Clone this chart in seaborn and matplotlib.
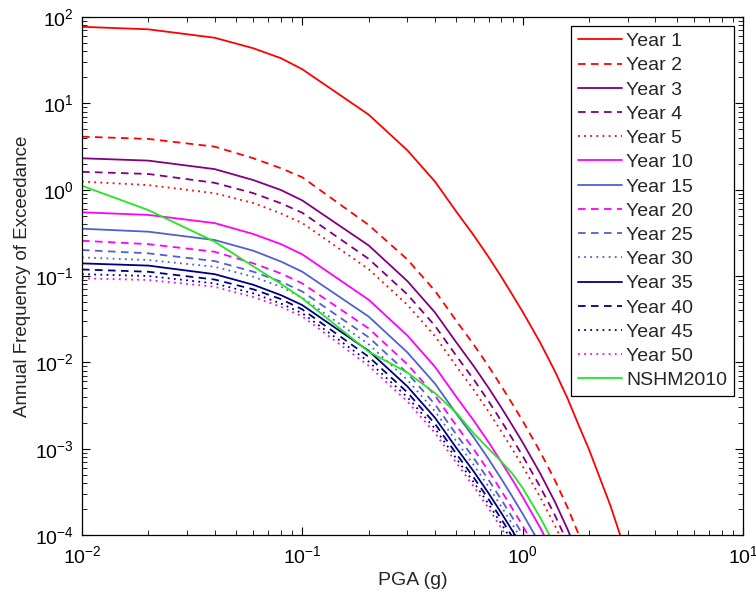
import numpy as np
import pandas as pd
import matplotlib
matplotlib.use("Agg")
import matplotlib.pyplot as plt
import seaborn as sns

# PGA grid (g)
pga = [0.01, 0.02, 0.04, 0.06, 0.08, 0.1, 0.2, 0.3, 0.4, 0.5, 0.6, 0.7,
       0.8, 0.9, 1.0, 1.2, 1.4, 1.6, 1.8, 2.0, 2.5, 3.0]

# Annual frequency of exceedance per year after the mainshock
year1 = [77, 72, 57.5, 43.4, 33.3, 24.8, 7.4, 2.85, 1.24, 0.556, 0.295, 0.166,
         0.098, 0.060, 0.0385, 0.017, 0.0079, 0.0038, 0.00184, 0.00098, 0.00022, 0.000054]
year2 = [4.11, 3.87, 3.15, 2.31, 1.77, 1.39, 0.39, 0.155, 0.0673, 0.0302, 0.0160, 0.00902,
         0.00531, 0.00327, 0.00210, 0.000923, 0.000432, 0.000207, 0.0001, 0.000053]
year3 = [2.31, 2.17, 1.73, 1.29, 0.99, 0.75, 0.226, 0.0871, 0.0378, 0.0170, 0.00902, 0.00507,
         0.00299, 0.00184, 0.00118, 0.000519, 0.000243, 0.000116, 0.000056]
year4 = [1.61, 1.52, 1.20, 0.91, 0.695, 0.54, 0.158, 0.061, 0.0265, 0.0119, 0.00631, 0.00355,
         0.00209, 0.00129, 0.000824, 0.000363, 0.00017, 0.000081]
year5 = [1.24, 1.13, 0.91, 0.70, 0.53, 0.41, 0.120, 0.0462, 0.0201, 0.00902, 0.00479, 0.00269,
         0.00158, 0.000977, 0.000625, 0.000275, 0.000129, 0.000062]
year10 = [0.547, 0.51, 0.41, 0.306, 0.234, 0.178, 0.0531, 0.0204, 0.00887, 0.00398, 0.00211,
          0.00119, 0.0007, 0.000432, 0.000276, 0.000122, 0.000057]
year15 = [0.353, 0.326, 0.261, 0.196, 0.147, 0.112, 0.0339, 0.0130, 0.00566, 0.00254, 0.00135,
          0.000759, 0.000447, 0.000275, 0.000176, 0.000078]
year20 = [0.256, 0.234, 0.191, 0.14, 0.107, 0.082, 0.0247, 0.00948, 0.00412, 0.00185, 0.000982,
          0.000552, 0.000325, 0.0002, 0.000128, 0.000056]
year25 = [0.2, 0.183, 0.149, 0.112, 0.086, 0.066, 0.0195, 0.0075, 0.00326, 0.00146, 0.000776,
          0.000437, 0.000257, 0.000158, 0.000101, 0.000045]
year30 = [0.164, 0.153, 0.128, 0.098, 0.075, 0.056, 0.0162, 0.00624, 0.00271, 0.00122, 0.000646,
          0.000363, 0.000214, 0.000132, 0.000084]
year35 = [0.14, 0.132, 0.105, 0.079, 0.060, 0.046, 0.0136, 0.00525, 0.00228, 0.00102, 0.000543,
          0.000305, 0.00018, 0.000111, 0.000071]
year40 = [0.119, 0.112, 0.091, 0.070, 0.054, 0.041, 0.0116, 0.00447, 0.00194, 0.000871, 0.000462,
          0.00026, 0.000153, 0.000094]
year45 = [0.105, 0.1, 0.082, 0.063, 0.048, 0.037, 0.0102, 0.00394, 0.00171, 0.000767, 0.000407,
          0.000229, 0.000135, 0.000083]
year50 = [0.094, 0.09, 0.075, 0.057, 0.044, 0.034, 0.00912, 0.00351, 0.00152, 0.000684, 0.000363,
          0.000204, 0.00012, 0.000074]
nshm2010 = [1.11, 0.58, 0.25, 0.129, 0.081, 0.055, 0.0133, 0.0076, 0.0044, 0.0026, 0.0015, 0.001,
            0.00071, 0.00051, 0.00035, 0.00016, 0.000076]

labels = ["Year 1", "Year 2", "Year 3", "Year 4", "Year 5", "Year 10", "Year 15",
          "Year 20", "Year 25", "Year 30", "Year 35", "Year 40", "Year 45", "Year 50",
          "NSHM2010"]
series = [year1, year2, year3, year4, year5, year10, year15, year20, year25, year30,
          year35, year40, year45, year50, nshm2010]

RED, PURPLE, MAGENTA, SLATE, NAVY, GREEN = "#ff0000", "#800080", "#ff00ff", "#5060d0", "#000080", "#22e622"
DASH = (0, (4.2, 3.0))
DOT = (0, (1, 2.4))
styles = [
    (RED, "-"), (RED, DASH), (PURPLE, "-"), (PURPLE, DASH), (RED, DOT),
    (MAGENTA, "-"), (SLATE, "-"), (MAGENTA, DASH), (SLATE, DASH), (SLATE, DOT),
    (NAVY, "-"), (NAVY, DASH), (NAVY, DOT), (MAGENTA, DOT), (GREEN, "-"),
]

sns.set_style("ticks")
plt.rcParams["font.family"] = ["Liberation Sans", "DejaVu Sans"]
plt.rcParams["mathtext.fontset"] = "custom"
plt.rcParams["mathtext.rm"] = "Liberation Sans"
plt.rcParams["mathtext.it"] = "Liberation Sans"
plt.rcParams["mathtext.bf"] = "Liberation Sans"

fig = plt.figure(figsize=(7.56, 5.94), dpi=100)
ax = fig.add_axes([82 / 756, 59 / 594, 661 / 756, 518 / 594])

for lab, vals, (col, ls) in zip(labels, series, styles):
    df = pd.DataFrame({"PGA": pga[:len(vals)], "AFE": vals})
    sns.lineplot(data=df, x="PGA", y="AFE", ax=ax, color=col, linestyle=ls,
                 linewidth=1.3, label=lab, sort=False, estimator=None)

ax.set_xscale("log")
ax.set_yscale("log")
ax.set_xlim(1e-2, 1e1)
ax.set_ylim(1e-4, 1e2)

ax.set_xlabel("PGA (g)", fontsize=14, labelpad=4)
ax.set_ylabel("Annual Frequency of Exceedance", fontsize=13.5, labelpad=3)

ax.yaxis.set_major_locator(matplotlib.ticker.LogLocator(base=10, numticks=10))
ax.yaxis.set_minor_locator(matplotlib.ticker.LogLocator(base=10, subs=np.arange(2, 10), numticks=20))
ax.xaxis.set_minor_locator(matplotlib.ticker.LogLocator(base=10, subs=np.arange(2, 10), numticks=20))

ax.tick_params(axis="both", which="both", direction="in", top=True, right=True,
               labelsize=14, colors="black")
ax.tick_params(axis="both", which="major", length=6, width=0.8)
ax.tick_params(axis="both", which="minor", length=3.5, width=0.6)
ax.tick_params(axis="x", which="major", pad=7)
ax.tick_params(axis="y", which="major", pad=6)
for sp in ax.spines.values():
    sp.set_visible(True)
    sp.set_linewidth(0.9)
    sp.set_color("black")

leg = ax.legend(loc="upper right", fontsize=14, frameon=True, fancybox=False,
                edgecolor="black", framealpha=1, handlelength=2.25,
                handletextpad=0.25, labelspacing=0.34, borderpad=0.35,
                borderaxespad=0.45)
leg.get_frame().set_linewidth(0.9)

fig.savefig("out.png", dpi=100)
